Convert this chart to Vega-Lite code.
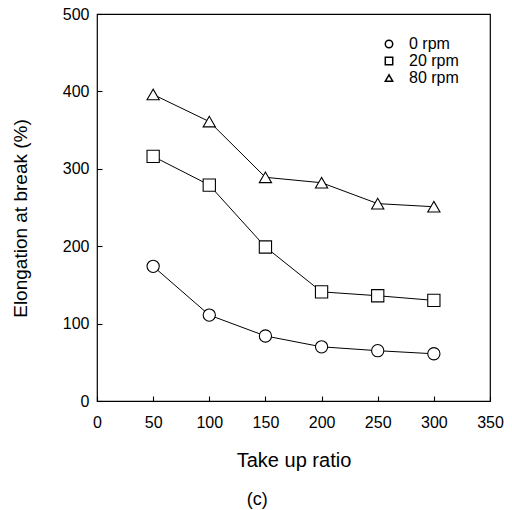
{
  "$schema": "https://vega.github.io/schema/vega-lite/v6.json",
  "autosize": "none",
  "padding": {"left": 97, "top": 14, "right": 22, "bottom": 109},
  "width": 393,
  "height": 387,
  "background": "white",
  "title": {"text": "(c)", "orient": "bottom", "frame": "bounds", "anchor": "middle", "fontSize": 18, "font": "Liberation Sans", "fontWeight": "normal", "color": "black", "offset": 21},
  "config": {
    "view": {"stroke": "black", "strokeWidth": 1.2},
    "font": "Liberation Sans",
    "axis": {"labelFont": "Liberation Sans", "titleFont": "Liberation Sans", "labelColor": "black", "titleColor": "black", "titleFontWeight": "normal", "domain": false, "grid": false, "ticks": true, "tickColor": "black", "tickWidth": 1.1, "zindex": 1}
  },
  "data": {
    "values": [
      {"ratio": 50, "elong": 174, "series": "0 rpm"},
      {"ratio": 100, "elong": 111, "series": "0 rpm"},
      {"ratio": 150, "elong": 84, "series": "0 rpm"},
      {"ratio": 200, "elong": 70, "series": "0 rpm"},
      {"ratio": 250, "elong": 65, "series": "0 rpm"},
      {"ratio": 300, "elong": 61, "series": "0 rpm"},
      {"ratio": 50, "elong": 316, "series": "20 rpm"},
      {"ratio": 100, "elong": 279, "series": "20 rpm"},
      {"ratio": 150, "elong": 199, "series": "20 rpm"},
      {"ratio": 200, "elong": 141, "series": "20 rpm"},
      {"ratio": 250, "elong": 136, "series": "20 rpm"},
      {"ratio": 300, "elong": 130, "series": "20 rpm"},
      {"ratio": 50, "elong": 396, "series": "80 rpm"},
      {"ratio": 100, "elong": 361, "series": "80 rpm"},
      {"ratio": 150, "elong": 289, "series": "80 rpm"},
      {"ratio": 200, "elong": 282, "series": "80 rpm"},
      {"ratio": 250, "elong": 255, "series": "80 rpm"},
      {"ratio": 300, "elong": 251, "series": "80 rpm"}
    ]
  },
  "encoding": {
    "x": {
      "field": "ratio", "type": "quantitative",
      "scale": {"domain": [0, 350], "nice": false, "zero": false},
      "axis": {"values": [0, 50, 100, 150, 200, 250, 300, 350], "offset": -5, "tickSize": 5, "labelPadding": 13, "labelFontSize": 16, "title": "Take up ratio", "titleFontSize": 20, "titlePadding": 20, "labelFlush": false}
    },
    "y": {
      "field": "elong", "type": "quantitative",
      "scale": {"domain": [0, 500], "nice": false},
      "axis": {"values": [0, 100, 200, 300, 400, 500], "offset": -5, "tickSize": 5, "labelPadding": 8, "labelFontSize": 16, "title": "Elongation at break (%)", "titleFontSize": 19, "titlePadding": 32, "titleY": 204, "labelFlush": false}
    }
  },
  "layer": [
    {
      "mark": {"type": "line", "color": "black", "strokeWidth": 1},
      "encoding": {"detail": {"field": "series"}}
    },
    {
      "mark": {"type": "point", "filled": false, "fill": "white", "stroke": "black", "color": "black", "strokeWidth": 1.1, "size": 150, "opacity": 1, "fillOpacity": 1},
      "encoding": {
        "shape": {
          "field": "series", "type": "nominal",
          "scale": {"domain": ["0 rpm", "20 rpm", "80 rpm"], "range": ["circle", "square", "triangle-up"]},
          "legend": {"title": null, "orient": "none", "legendX": 284, "legendY": 22, "symbolSize": 55, "labelFontSize": 16, "labelColor": "black", "rowPadding": 1, "labelOffset": 12,
            "labelExpr": "datum.value === '0 rpm' ? '\u00a0\u00a00 rpm' : datum.label",
            "encode": {"symbols": {"update": {"fill": {"value": "white"}, "stroke": {"value": "black"}, "strokeWidth": {"value": 1}, "opacity": {"value": 1}}}}}
        }
      }
    }
  ]
}
